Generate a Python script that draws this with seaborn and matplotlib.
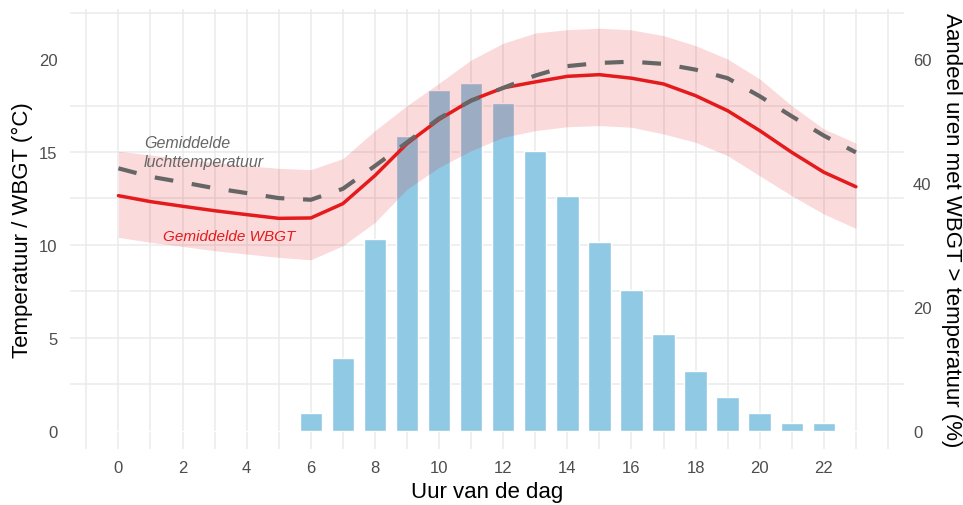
import matplotlib
matplotlib.use("Agg")
import matplotlib.pyplot as plt
from matplotlib.ticker import FixedLocator, NullFormatter
import seaborn as sns

# Hourly profile of a summer day
hours = list(range(24))
wbgt_mean = [12.65, 12.33, 12.08, 11.84, 11.63, 11.43, 11.45, 12.22, 13.73, 15.45,
             16.75, 17.78, 18.45, 18.77, 19.07, 19.16, 18.97, 18.66, 18.03, 17.22,
             16.15, 14.98, 13.91, 13.13]
air_temp_mean = [14.12, 13.67, 13.37, 13.05, 12.79, 12.52, 12.43, 13.02, 14.25, 15.52,
                 16.81, 17.76, 18.45, 19.11, 19.62, 19.79, 19.86, 19.74, 19.43, 18.97,
                 18.00, 16.92, 15.88, 14.98]
wbgt_low = [10.41, 10.14, 9.92, 9.69, 9.51, 9.33, 9.20, 9.96, 11.21, 13.00,
            14.17, 15.07, 15.79, 16.15, 16.36, 16.42, 16.33, 15.97, 15.52, 14.80,
            13.72, 12.65, 11.66, 10.89]
wbgt_high = [15.04, 14.84, 14.62, 14.44, 14.26, 14.12, 14.05, 14.64, 16.15, 17.49,
             18.70, 19.95, 20.85, 21.40, 21.58, 21.66, 21.57, 21.26, 20.72, 20.00,
             18.93, 17.49, 16.24, 15.48]
share_wbgt_above = [0, 0, 0, 0, 0, 0, 2.9, 11.7, 30.9, 47.5, 55.0, 56.1, 52.9, 45.1,
                    37.9, 30.5, 22.8, 15.6, 9.6, 5.5, 2.9, 1.2, 1.2, 0]

x_ticks = list(range(0, 23, 2))
temp_ticks = [0, 5, 10, 15, 20]
temp_grid = [0, 2.5, 5, 7.5, 10, 12.5, 15, 17.5, 20, 22.5]
pct_ticks = [0, 20, 40, 60]
PCT_PER_DEGREE = 3  # right axis: 60 % lines up with 20 °C

RED = "#E41A1C"
GREY = "#666666"
BLUE = "#8FC9E4"
GRID = "#EBEBEB"
TICK = "#4D4D4D"

sns.set_style("white")
plt.rcParams["font.family"] = ["Liberation Sans", "DejaVu Sans"]

fig = plt.figure(figsize=(9.63, 5.06), dpi=100)
ax_pct = fig.add_axes([70 / 963, 1 - 450 / 506, 834 / 963, 440.5 / 506])
ax_t = ax_pct.twinx()

t_lo, t_hi = -0.98, 22.72
ax_t.set_ylim(t_lo, t_hi)
ax_pct.set_ylim(t_lo * PCT_PER_DEGREE, t_hi * PCT_PER_DEGREE)

# bars: share of hours with WBGT above air temperature (right axis)
sns.barplot(x=hours, y=share_wbgt_above, native_scale=True, width=0.7,
            color=BLUE, saturation=1, ax=ax_pct, zorder=2)

# band + lines (left axis)
ax_t.fill_between(hours, wbgt_low, wbgt_high, color=RED, alpha=0.16, lw=0, zorder=1)
sns.lineplot(x=hours, y=wbgt_mean, color=RED, lw=2.5, ax=ax_t, zorder=3)
sns.lineplot(x=hours, y=air_temp_mean, color=GREY, lw=3.0,
             linestyle=(0, (4.5, 4.5)), ax=ax_t, zorder=4)

ax_t.text(0.80, 15.0, "Gemiddelde\nluchttemperatuur", color=GREY, style="italic",
          fontsize=11.5, ha="left", va="center", linespacing=1.4)
ax_t.text(1.39, 10.46, "Gemiddelde WBGT", color=RED, style="italic",
          fontsize=11, ha="left", va="center")

ax_pct.set_xlim(-1.51, 24.5)

# axis sides: temperature on the left, percentage on the right
ax_t.yaxis.tick_left()
ax_t.yaxis.set_label_position("left")
ax_pct.yaxis.tick_right()
ax_pct.yaxis.set_label_position("right")

ax_t.set_yticks(temp_ticks)
ax_pct.set_yticks(pct_ticks)
ax_pct.set_xticks(x_ticks)
ax_pct.xaxis.set_minor_locator(FixedLocator([-1] + list(range(1, 24, 2)) + [24]))
ax_pct.yaxis.set_minor_locator(FixedLocator([v * PCT_PER_DEGREE for v in temp_grid]))
ax_pct.yaxis.set_minor_formatter(NullFormatter())
ax_pct.xaxis.set_minor_formatter(NullFormatter())

ax_pct.set_axisbelow(True)
ax_pct.grid(True, which="both", axis="x", color=GRID, lw=1.1)
ax_pct.grid(False, which="major", axis="y")
ax_pct.grid(True, which="minor", axis="y", color=GRID, lw=1.1)
ax_t.grid(False)

for a in (ax_pct, ax_t):
    for s in a.spines.values():
        s.set_visible(False)
    a.tick_params(which="both", length=0, labelsize=12, labelcolor=TICK)
ax_t.tick_params(axis="y", pad=9)
ax_pct.tick_params(axis="y", pad=6.5)
ax_pct.tick_params(axis="x", pad=8)

ax_pct.set_xlabel("Uur van de dag", fontsize=16, color="black")
ax_pct.xaxis.set_label_coords(0.5, -0.097)
ax_pct.xaxis.label.set_va("center")

ax_t.set_ylabel("Temperatuur / WBGT (°C)", fontsize=16, color="black")
ax_t.yaxis.set_label_coords(-0.0576, 0.5)
ax_t.yaxis.label.set_va("center")

ax_pct.set_ylabel("Aandeel uren met WBGT > temperatuur (%)", fontsize=16,
                  color="black", rotation=270)
ax_pct.yaxis.set_label_coords(1.0572, 0.5)
ax_pct.yaxis.label.set_va("center")
ax_pct.yaxis.label.set_ha("center")

fig.savefig("out.png", dpi=100)
